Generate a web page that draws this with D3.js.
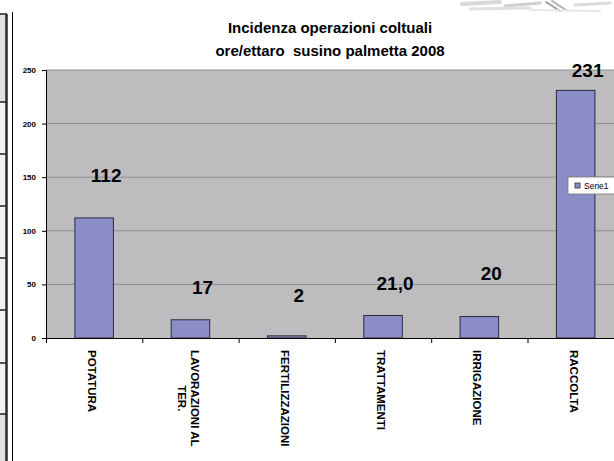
<!DOCTYPE html>
<html>
<head>
<meta charset="utf-8">
<script src="https://cdn.jsdelivr.net/npm/d3@7"></script>
<style>
  body { margin: 0; background: #fff; }
  svg { display: block; font-family: Arial, "Liberation Sans", sans-serif; }
</style>
</head>
<body>
<svg id="chart" width="614" height="461"></svg>
<script>
// dati
const categories = [["POTATURA"], ["LAVORAZIONI AL", "TER."], ["FERTILIZZAZIONI"], ["TRATTAMENTI"], ["IRRIGAZIONE"], ["RACCOLTA"]];
const values = [112, 17, 2, 21, 20, 231];
const valueLabels = ["112", "17", "2", "21,0", "20", "231"];
const yTicks = [0, 50, 100, 150, 200, 250];
const seriesName = "Serie1";

// etichette spostate a mano nel foglio originale (unita' dell'asse y)
const labelAt = [152, 47, 40, 51, 60, 250];

const M = { left: 46, top: 70, bottom: 338, step: 96.3 };

const svg = d3.select("#chart");

const x = d3.scaleBand()
    .domain(d3.range(categories.length))
    .range([M.left, M.left + M.step * categories.length]);
const y = d3.scaleLinear().domain([0, 250]).range([M.bottom, M.top]);

// bordo tabella a sinistra (resto della scansione)
const strip = svg.append("g");
const rows = [14, 102, 154, 206, 258, 310, 363, 414, 461];
rows.slice(0, -1).forEach((r, i) => {
    strip.append("rect")
        .attr("x", 0).attr("y", r)
        .attr("width", 6).attr("height", rows[i + 1] - r)
        .attr("fill", (i === 0 || i === rows.length - 2) ? "#e2e2e4" : "#f2f2f2");
    strip.append("line")
        .attr("x1", 0).attr("x2", 7).attr("y1", r).attr("y2", r)
        .attr("stroke", "#222").attr("stroke-width", 1.5);
});
strip.append("line")
    .attr("x1", 6.5).attr("x2", 6.5).attr("y1", 14).attr("y2", 461)
    .attr("stroke", "#2a2a2a").attr("stroke-width", 2.5);
strip.append("line")
    .attr("x1", 12.5).attr("x2", 12.5).attr("y1", 12).attr("y2", 461)
    .attr("stroke", "#000").attr("stroke-width", 1);

// rumore della scansione in alto a destra
const smudge = svg.append("g").attr("stroke-linecap", "round");
[[462, 4, 500, 2, "#d8d8d8", 4], [505, 6, 540, 3, "#cfcfcf", 3], [470, 9, 530, 8, "#e0e0e0", 3],
 [546, 2, 560, 11, "#a0a0a0", 2], [552, 1, 566, 10, "#b0b0b0", 2], [575, 5, 610, 3, "#dadada", 3],
 [530, 10, 600, 11, "#e6e6e6", 2]].forEach(s => {
    smudge.append("line")
        .attr("x1", s[0]).attr("y1", s[1]).attr("x2", s[2]).attr("y2", s[3])
        .attr("stroke", s[4]).attr("stroke-width", s[5]);
});

// area del grafico
svg.append("rect")
    .attr("x", M.left).attr("y", M.top)
    .attr("width", 614 - M.left).attr("height", M.bottom - M.top)
    .attr("fill", "#bdbdc0");

svg.append("g")
    .selectAll("line")
    .data(yTicks.slice(1))
    .join("line")
    .attr("x1", M.left).attr("x2", 614)
    .attr("y1", d => y(d)).attr("y2", d => y(d))
    .attr("stroke", "#8e8e90").attr("stroke-width", 1);

// barre
svg.append("g")
    .selectAll("rect")
    .data(values)
    .join("rect")
    .attr("x", (d, i) => x(i) + x.bandwidth() * 0.3)
    .attr("y", d => y(d))
    .attr("width", x.bandwidth() * 0.4)
    .attr("height", d => y(0) - y(d))
    .attr("fill", "#8b8ec6")
    .attr("stroke", "#2b2b3a")
    .attr("stroke-width", 1);

// asse y
const yAxis = svg.append("g")
    .attr("transform", `translate(${M.left},0)`)
    .call(d3.axisLeft(y).tickValues(yTicks).tickSize(4).tickPadding(6));
yAxis.select(".domain").attr("stroke", "#000");
yAxis.selectAll(".tick line").attr("stroke", "#000");
yAxis.selectAll("text")
    .attr("font-size", 8).attr("font-weight", "bold").attr("fill", "#000");

// asse x
svg.append("line")
    .attr("x1", M.left).attr("x2", 614)
    .attr("y1", M.bottom + 0.5).attr("y2", M.bottom + 0.5)
    .attr("stroke", "#000");
svg.append("g")
    .selectAll("line")
    .data(d3.range(categories.length))
    .join("line")
    .attr("x1", d => x(d) + 0.5).attr("x2", d => x(d) + 0.5)
    .attr("y1", M.bottom).attr("y2", M.bottom + 5)
    .attr("stroke", "#000");

// etichette categorie ruotate
categories.forEach((lines, i) => {
    const cx = x(i) + x.bandwidth() / 2 - 2;
    const g = svg.append("g")
        .attr("transform", `translate(${cx},${M.bottom + 12}) rotate(90)`);
    const first = g.append("text")
        .attr("y", (-(lines.length - 1) / 2) * 13)
        .attr("dominant-baseline", "central")
        .attr("font-size", 11.5).attr("font-weight", "bold")
        .text(lines[0]);
    const w = first.node().getComputedTextLength();
    lines.slice(1).forEach((t, k) => {
        g.append("text")
            .attr("x", w / 2)
            .attr("y", (k + 1 - (lines.length - 1) / 2) * 13)
            .attr("dominant-baseline", "central")
            .attr("text-anchor", "middle")
            .attr("font-size", 11.5).attr("font-weight", "bold")
            .text(t);
    });
});

// etichette valori
svg.append("g")
    .selectAll("text")
    .data(valueLabels)
    .join("text")
    .attr("x", (d, i) => x(i) + x.bandwidth() / 2 + 12)
    .attr("y", (d, i) => y(labelAt[i]))
    .attr("text-anchor", "middle")
    .attr("dominant-baseline", "central")
    .attr("font-size", 19).attr("font-weight", "bold")
    .text(d => d);

// titolo
const title = svg.append("text")
    .attr("x", 330).attr("text-anchor", "middle")
    .attr("font-size", 15).attr("font-weight", "bold");
title.append("tspan").attr("x", 330).attr("y", 33).text("Incidenza operazioni coltuali");
title.append("tspan").attr("x", 330).attr("y", 56)
    .style("white-space", "pre").text("ore/ettaro  susino palmetta 2008");

// legenda
const leg = svg.append("g").attr("transform", "translate(568,177)");
leg.append("rect")
    .attr("width", 60).attr("height", 17)
    .attr("fill", "#fff").attr("stroke", "#777").attr("stroke-width", 0.8);
leg.append("rect")
    .attr("x", 7).attr("y", 6).attr("width", 5).attr("height", 5)
    .attr("fill", "#8b8ec6").attr("stroke", "#2b2b3a").attr("stroke-width", 0.8);
leg.append("text")
    .attr("x", 16).attr("y", 9).attr("dominant-baseline", "central")
    .attr("font-size", 8.5).text(seriesName);
</script>
</body>
</html>
